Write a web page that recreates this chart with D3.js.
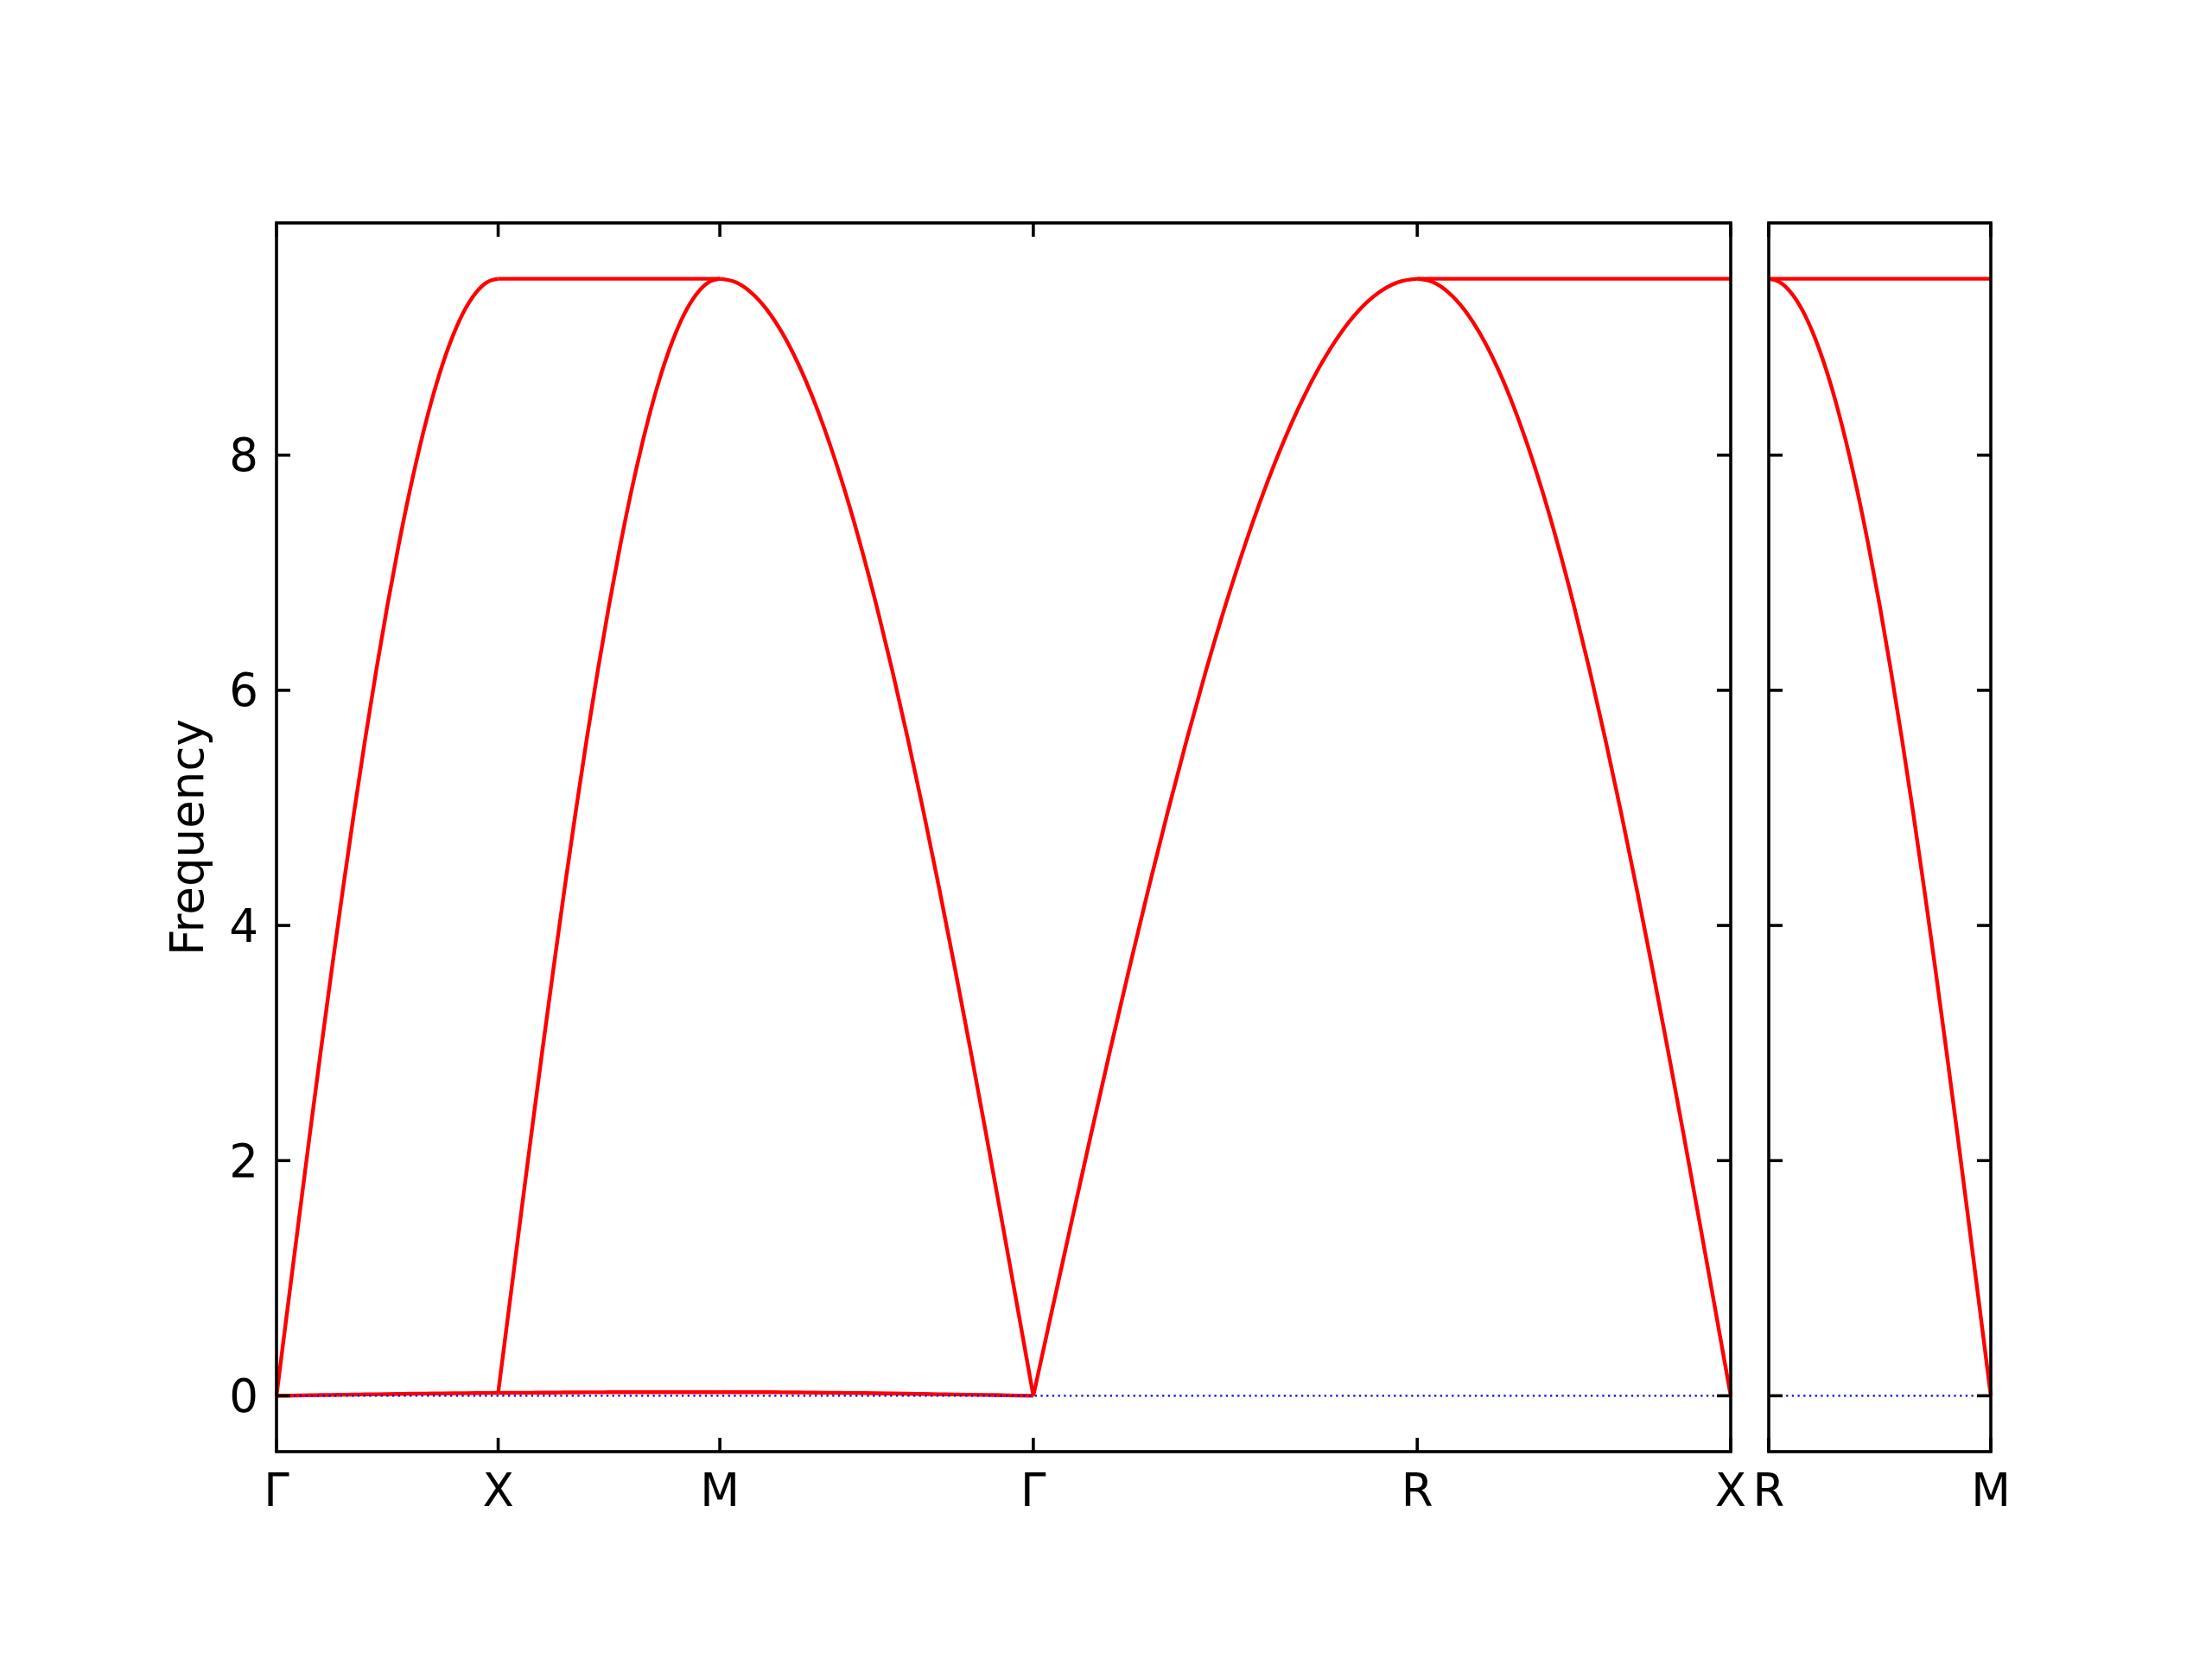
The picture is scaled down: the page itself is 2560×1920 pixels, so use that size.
<!DOCTYPE html>
<html>
<head>
<meta charset="utf-8">
<script src="https://cdn.jsdelivr.net/npm/d3@7"></script>
<style>
  body { margin: 0; background: #fff; }
  text { font-family: "DejaVu Sans", sans-serif; }
</style>
</head>
<body>
<svg width="2560" height="1920"></svg>
<script>
// high symmetry points (cumulative path distance)
var leftLabels = ["Γ", "X", "M", "Γ", "R", "X"];
var leftDist = [0, 0.5, 1.0, 1.7071, 2.5731, 3.2802];
var rightLabels = ["R", "M"];
var rightDist = [0, 0.5];
var yTicks = [0, 2, 4, 6, 8];

// fraction along each segment where frequencies were read
var frac = [0, 0.05, 0.1, 0.15, 0.2, 0.25, 0.3, 0.35, 0.4, 0.45, 0.5,
            0.55, 0.6, 0.65, 0.7, 0.75, 0.8, 0.85, 0.9, 0.95, 1];

// Γ-X
var gxUp   = [0, 0.745, 1.486, 2.218, 2.936, 3.635, 4.313, 4.964, 5.584, 6.17, 6.718,
              7.224, 7.686, 8.1, 8.465, 8.777, 9.035, 9.238, 9.383, 9.471, 9.5];
var gxLow  = [0, 0.001, 0.003, 0.004, 0.006, 0.007, 0.009, 0.01, 0.012, 0.013, 0.014,
              0.015, 0.017, 0.018, 0.019, 0.02, 0.021, 0.022, 0.023, 0.024, 0.025];
// X-M
var xmFlat = [9.5, 9.5, 9.5, 9.5, 9.5, 9.5, 9.5, 9.5, 9.5, 9.5, 9.5,
              9.5, 9.5, 9.5, 9.5, 9.5, 9.5, 9.5, 9.5, 9.5, 9.5];
var xmUp   = [0.025, 0.76, 1.5, 2.23, 2.945, 3.64, 4.32, 4.97, 5.59, 6.175, 6.72,
              7.225, 7.687, 8.1, 8.465, 8.777, 9.035, 9.238, 9.383, 9.471, 9.5];
var xmLow  = [0.025, 0.025, 0.026, 0.026, 0.027, 0.027, 0.028, 0.028, 0.029, 0.029, 0.03,
              0.03, 0.03, 0.03, 0.03, 0.03, 0.03, 0.03, 0.03, 0.03, 0.03];
// M-Γ
var mgDown = [9.5, 9.471, 9.383, 9.238, 9.035, 8.777, 8.465, 8.1, 7.686, 7.224, 6.718,
              6.17, 5.584, 4.964, 4.313, 3.635, 2.936, 2.218, 1.486, 0.745, 0];
var mgLow  = [0.03, 0.03, 0.03, 0.03, 0.029, 0.028, 0.027, 0.026, 0.024, 0.023, 0.021,
              0.019, 0.017, 0.015, 0.013, 0.011, 0.009, 0.007, 0.005, 0.002, 0];
// Γ-R
var grUp   = [0, 0.745, 1.486, 2.218, 2.936, 3.635, 4.313, 4.964, 5.584, 6.17, 6.718,
              7.224, 7.686, 8.1, 8.465, 8.777, 9.035, 9.238, 9.383, 9.471, 9.5];
// R-X
var rxFlat = [9.5, 9.5, 9.5, 9.5, 9.5, 9.5, 9.5, 9.5, 9.5, 9.5, 9.5,
              9.5, 9.5, 9.5, 9.5, 9.5, 9.5, 9.5, 9.5, 9.5, 9.5];
var rxDown = [9.5, 9.471, 9.383, 9.238, 9.035, 8.777, 8.465, 8.1, 7.686, 7.224, 6.718,
              6.17, 5.584, 4.964, 4.313, 3.635, 2.936, 2.218, 1.486, 0.745, 0];
// R-M (second panel)
var rmFlat = [9.5, 9.5, 9.5, 9.5, 9.5, 9.5, 9.5, 9.5, 9.5, 9.5, 9.5,
              9.5, 9.5, 9.5, 9.5, 9.5, 9.5, 9.5, 9.5, 9.5, 9.5];
var rmDown = [9.5, 9.471, 9.383, 9.238, 9.035, 8.777, 8.465, 8.1, 7.686, 7.224, 6.718,
              6.17, 5.584, 4.964, 4.313, 3.635, 2.936, 2.218, 1.486, 0.745, 0];

var leftSegments = [
  { from: 0, to: 1, bands: [gxUp, gxLow] },
  { from: 1, to: 2, bands: [xmFlat, xmUp, xmLow] },
  { from: 2, to: 3, bands: [mgDown, mgLow] },
  { from: 3, to: 4, bands: [grUp] },
  { from: 4, to: 5, bands: [rxFlat, rxDown] }
];
var rightSegments = [
  { from: 0, to: 1, bands: [rmFlat, rmDown] }
];

var svg = d3.select("svg");
var plotTop = 258, plotBottom = 1680;

var y = d3.scaleLinear().domain([-0.475, 9.975]).range([plotBottom, plotTop]);

var panels = [
  { x0: 320, x1: 2003, dist: leftDist, labels: leftLabels, segs: leftSegments, yLabels: true },
  { x0: 2047, x1: 2304, dist: rightDist, labels: rightLabels, segs: rightSegments, yLabels: false }
];

var tickLen = 16;

panels.forEach(function(p) {
  var x = d3.scaleLinear().domain([p.dist[0], p.dist[p.dist.length - 1]]).range([p.x0, p.x1]);
  var g = svg.append("g");

  // bands
  var line = d3.line()
    .x(function(d) { return x(d[0]); })
    .y(function(d) { return y(d[1]); })
    .curve(d3.curveMonotoneX);

  p.segs.forEach(function(s) {
    var d0 = p.dist[s.from], d1 = p.dist[s.to];
    s.bands.forEach(function(b) {
      var pts = b.map(function(v, i) { return [d0 + frac[i] * (d1 - d0), v]; });
      g.append("path")
        .attr("d", line(pts))
        .attr("fill", "none")
        .attr("stroke", "#ff0000")
        .attr("stroke-width", 4.4)
        .attr("stroke-linejoin", "round");
    });
  });

  // zero line
  g.append("line")
    .attr("x1", p.x0).attr("x2", p.x1)
    .attr("y1", y(0)).attr("y2", y(0))
    .attr("stroke", "#0000ff")
    .attr("stroke-width", 2.2)
    .attr("stroke-dasharray", "2.3,4.4");

  // y ticks, inward on both sides
  yTicks.forEach(function(t) {
    g.append("line")
      .attr("x1", p.x0).attr("x2", p.x0 + tickLen)
      .attr("y1", y(t)).attr("y2", y(t))
      .attr("stroke", "#000").attr("stroke-width", 3.6);
    g.append("line")
      .attr("x1", p.x1).attr("x2", p.x1 - tickLen)
      .attr("y1", y(t)).attr("y2", y(t))
      .attr("stroke", "#000").attr("stroke-width", 3.6);
    if (p.yLabels) {
      g.append("text")
        .attr("x", p.x0 - 21)
        .attr("y", y(t))
        .attr("text-anchor", "end")
        .attr("dominant-baseline", "central")
        .attr("font-size", 53)
        .text(t);
    }
  });

  // x ticks, inward top and bottom
  p.dist.forEach(function(d, i) {
    g.append("line")
      .attr("x1", x(d)).attr("x2", x(d))
      .attr("y1", plotBottom).attr("y2", plotBottom - tickLen)
      .attr("stroke", "#000").attr("stroke-width", 3.6);
    g.append("line")
      .attr("x1", x(d)).attr("x2", x(d))
      .attr("y1", plotTop).attr("y2", plotTop + tickLen)
      .attr("stroke", "#000").attr("stroke-width", 3.6);
    g.append("text")
      .attr("x", x(d))
      .attr("y", 1743)
      .attr("text-anchor", "middle")
      .attr("font-size", 53)
      .text(p.labels[i]);
  });

  // frame
  g.append("rect")
    .attr("x", p.x0).attr("y", plotTop)
    .attr("width", p.x1 - p.x0).attr("height", plotBottom - plotTop)
    .attr("fill", "none")
    .attr("stroke", "#000")
    .attr("stroke-width", 3.6);
});

// axis label
svg.append("text")
  .attr("transform", "translate(235,969) rotate(-90)")
  .attr("text-anchor", "middle")
  .attr("font-size", 53)
  .text("Frequency");
</script>
</body>
</html>
